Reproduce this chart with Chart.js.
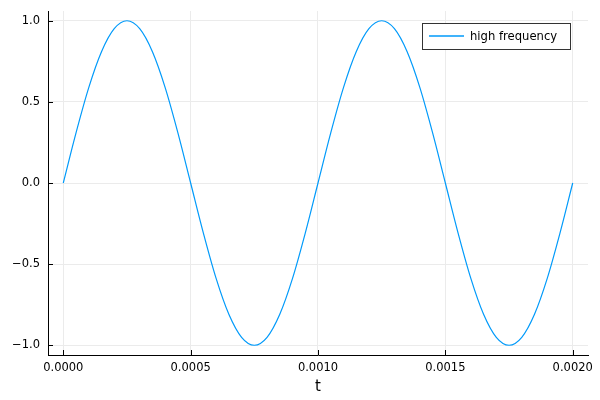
<!DOCTYPE html>
<html>
<head>
<meta charset="utf-8">
<script src="https://cdn.jsdelivr.net/npm/chart.js@4/dist/chart.umd.min.js"></script>
<style>
  html, body { margin: 0; padding: 0; background: #fff; }
  #wrap { width: 600px; height: 400px; }
</style>
</head>
<body>
<div id="wrap"><canvas id="myChart" width="600" height="400"></canvas></div>
<script>
// data
const seriesName = 'high frequency';
const tValues = [
  0, 0.00005, 0.0001, 0.00015, 0.0002, 0.00025, 0.0003, 0.00035, 0.0004, 0.00045,
  0.0005, 0.00055, 0.0006, 0.00065, 0.0007, 0.00075, 0.0008, 0.00085, 0.0009, 0.00095,
  0.001, 0.00105, 0.0011, 0.00115, 0.0012, 0.00125, 0.0013, 0.00135, 0.0014, 0.00145,
  0.0015, 0.00155, 0.0016, 0.00165, 0.0017, 0.00175, 0.0018, 0.00185, 0.0019, 0.00195,
  0.002
];
const yValues = [
  0, 0.309, 0.588, 0.809, 0.951, 1, 0.951, 0.809, 0.588, 0.309,
  0, -0.309, -0.588, -0.809, -0.951, -1, -0.951, -0.809, -0.588, -0.309,
  0, 0.309, 0.588, 0.809, 0.951, 1, 0.951, 0.809, 0.588, 0.309,
  0, -0.309, -0.588, -0.809, -0.951, -1, -0.951, -0.809, -0.588, -0.309,
  0
];
const xTicks = [0, 0.0005, 0.001, 0.0015, 0.002];
const xTickLabels = ['0.0000', '0.0005', '0.0010', '0.0015', '0.0020'];
const yTicks = [-1, -0.5, 0, 0.5, 1];
const yTickLabels = ['\u22121.0', '\u22120.5', '0.0', '0.5', '1.0'];

const FONT = 'DejaVu Sans';

function setTicks(values) {
  return function (scale) {
    scale.ticks = values.map(v => ({ value: v }));
  };
}

function labelFor(values, labels) {
  return function (value) {
    const i = values.findIndex(v => Math.abs(v - value) < 1e-9);
    return i >= 0 ? labels[i] : '';
  };
}

// short tick marks pointing into the plot, like the reference
const innerTicks = {
  id: 'innerTicks',
  afterDatasetsDraw(chart) {
    const ctx = chart.ctx;
    const xs = chart.scales.x, ys = chart.scales.y;
    const area = chart.chartArea;
    ctx.save();
    ctx.strokeStyle = '#000';
    ctx.lineWidth = 1;
    ctx.beginPath();
    xTicks.forEach(v => {
      const px = Math.round(xs.getPixelForValue(v)) + 0.5;
      ctx.moveTo(px, area.bottom);
      ctx.lineTo(px, area.bottom - 5);
    });
    yTicks.forEach(v => {
      const py = Math.round(ys.getPixelForValue(v)) + 0.5;
      ctx.moveTo(area.left, py);
      ctx.lineTo(area.left + 5, py);
    });
    ctx.stroke();
    ctx.restore();
  }
};

// framed legend in the top right corner of the plot
const boxLegend = {
  id: 'boxLegend',
  afterDraw(chart) {
    const ctx = chart.ctx;
    const area = chart.chartArea;
    const ds = chart.data.datasets[0];
    const w = 148, h = 26;
    const x = Math.round(area.right - 18 - w), y = Math.round(area.top + 12);
    ctx.save();
    ctx.fillStyle = '#fff';
    ctx.fillRect(x, y, w, h);
    ctx.strokeStyle = '#333';
    ctx.lineWidth = 1;
    ctx.strokeRect(x + 0.5, y + 0.5, w, h);
    ctx.strokeStyle = ds.borderColor;
    ctx.lineWidth = 1.5;
    ctx.beginPath();
    ctx.moveTo(x + 7, y + h / 2);
    ctx.lineTo(x + 42, y + h / 2);
    ctx.stroke();
    ctx.fillStyle = '#000';
    ctx.font = '11.6px "' + FONT + '"';
    ctx.textBaseline = 'middle';
    ctx.fillText(ds.label, x + 48, y + h / 2 + 1);
    ctx.restore();
  }
};

const ctx = document.getElementById('myChart').getContext('2d');
const myChart = new Chart(ctx, {
  type: 'line',
  data: {
    datasets: [{
      label: seriesName,
      data: tValues.map((t, i) => ({ x: t, y: yValues[i] })),
      borderColor: '#009AFA',
      borderWidth: 1.2,
      pointRadius: 0,
      fill: false,
      cubicInterpolationMode: 'monotone'
    }]
  },
  options: {
    responsive: false,
    animation: false,
    layout: { padding: { top: 11, right: 12, left: 0, bottom: 0 } },
    plugins: {
      legend: { display: false },
      tooltip: { enabled: false }
    },
    scales: {
      x: {
        type: 'linear',
        min: -0.00006,
        max: 0.00206,
        afterBuildTicks: setTicks(xTicks),
        afterFit(scale) {
          scale.height = 45;
          scale.paddingLeft = 0;
          scale.paddingRight = 0;
        },
        grid: { color: '#ebebeb', drawTicks: false },
        border: { display: true, color: '#000', width: 1 },
        ticks: {
          padding: 6,
          color: '#000',
          font: { family: FONT, size: 11.5 },
          maxRotation: 0,
          autoSkip: false,
          callback: labelFor(xTicks, xTickLabels)
        },
        title: {
          display: true,
          text: 't',
          color: '#000',
          font: { family: FONT, size: 15 },
          padding: { top: 0, bottom: 4 }
        }
      },
      y: {
        min: -1.06,
        max: 1.06,
        afterBuildTicks: setTicks(yTicks),
        afterFit(scale) {
          scale.width = 48;
          scale.paddingTop = 0;
          scale.paddingBottom = 0;
        },
        grid: { color: '#ebebeb', drawTicks: false },
        border: { display: true, color: '#000', width: 1 },
        ticks: {
          padding: 8,
          color: '#000',
          font: { family: FONT, size: 11.5 },
          autoSkip: false,
          callback: labelFor(yTicks, yTickLabels)
        }
      }
    }
  },
  plugins: [innerTicks, boxLegend]
});
</script>
</body>
</html>
